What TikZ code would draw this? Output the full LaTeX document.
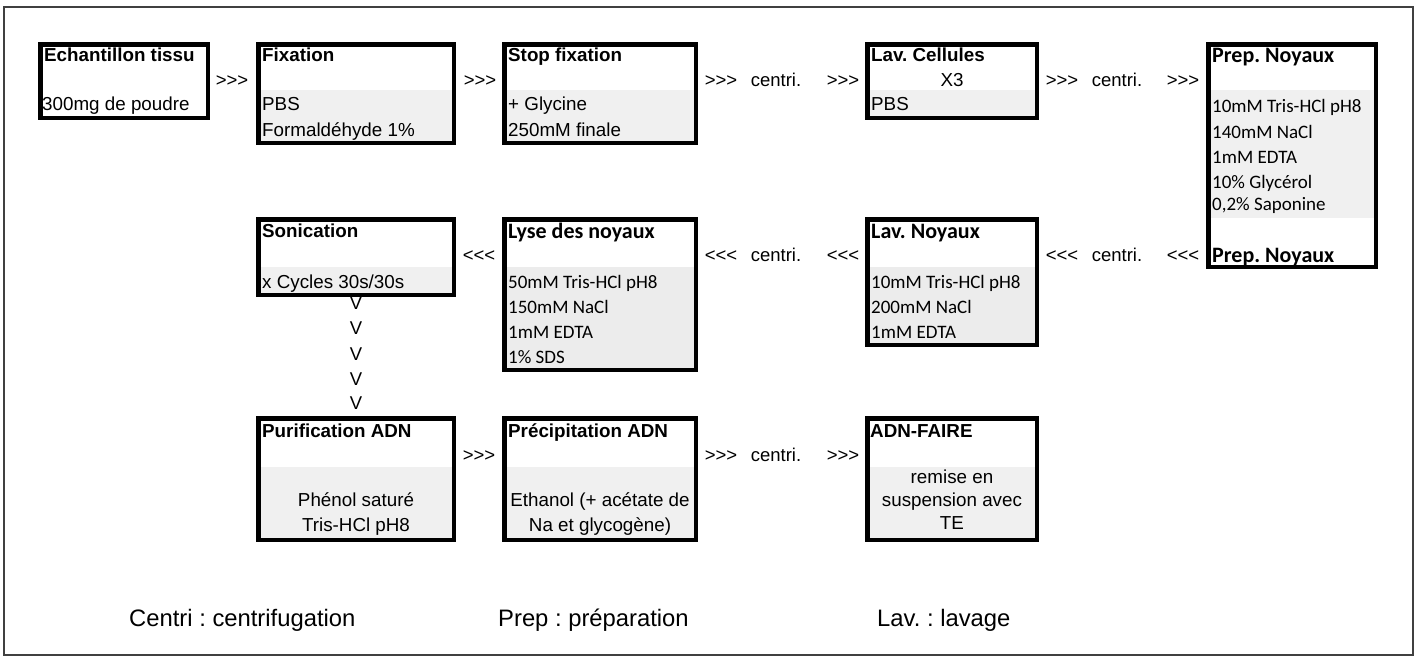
\documentclass[tikz,border=0pt]{standalone}
\usepackage{fontspec}
\setmainfont{Liberation Sans}
\newfontfamily\calfont{Carlito}
\definecolor{bandA}{HTML}{F0F0F0}
\definecolor{bandB}{HTML}{ECECEC}
\definecolor{framegray}{HTML}{404040}
% name, x1, y1, x2, y2, band top, band colour
\newcommand\exbox[7]{%
  \fill[white] (#2,#3) rectangle (#4,#5);
  \fill[#7] (#2,#6) rectangle (#4,#5);
  \node[boxframe, minimum width={#4-#2-4.5}, minimum height={#5-#3-4.5}] (#1) at ({(#2+#4)/2},{(#3+#5)/2}) {};
}
\begin{document}
\frenchspacing
\begin{tikzpicture}[x=1pt,y=-1pt,
  boxframe/.style={draw=black, line width=4.5pt, inner sep=0pt},
  ar/.style={font=\fontsize{18.8}{22}\selectfont, inner sep=0pt, anchor=base west},
  arb/.style={font=\fontsize{18.8}{22}\selectfont\bfseries, inner sep=0pt, anchor=base west},
  arc/.style={ar, anchor=base},
  ca/.style={font={\calfont\fontsize{19}{22}\selectfont}, inner sep=0pt, anchor=base west},
  cab/.style={font={\calfont\bfseries\fontsize{22}{24}\selectfont}, inner sep=0pt, anchor=base west},
  lnk/.style={font=\fontsize{18.5}{22}\selectfont, inner sep=0pt, anchor=base},
  foot/.style={font=\fontsize{23.8}{28}\selectfont, inner sep=0pt, anchor=base west}]
\useasboundingbox (0,0) rectangle (1419,657);
\draw[framegray, line width=1.8pt] (4,7) rectangle (1413,655);

% ---- row 1 ----
\exbox{b1}{38}{42}{210}{120}{120}{white}
\exbox{b2}{256}{42}{456}{145}{90}{bandA}
\exbox{b3}{502}{42}{698}{145}{90}{bandA}
\exbox{b4}{865}{42}{1039}{120}{90}{bandA}
\exbox{b5}{1206}{42}{1378}{269}{90}{bandA}
\fill[white] (1208,218) rectangle (1376,267);
\node[boxframe, minimum width={1378-1206-4.5}, minimum height={269-42-4.5}] (b5f) at (1292,155.5) {};

\node[arb] (t1) at (44,61) {Echantillon tissu};
\node[ar] (t1a) at (42,110) {300mg de poudre};

\node[arb] (t2) at (262,61) {Fixation};
\node[ar] (t2a) at (262,110) {PBS};
\node[ar] (t2b) at (262,136) {Formaldéhyde 1\%};

\node[arb] (t3) at (508,61) {Stop fixation};
\node[ar] (t3a) at (508,110) {+ Glycine};
\node[ar] (t3b) at (508,136) {250mM finale};

\node[arb] (t4) at (871,61) {Lav. Cellules};
\node[arc] (t4a) at (952,86) {X3};
\node[ar] (t4b) at (871,110) {PBS};

\node[cab] (t5) at (1212,62) {Prep. Noyaux};
\node[ca] (t5a) at (1212,112) {10mM Tris-HCl pH8};
\node[ca] (t5b) at (1212,138) {140mM NaCl};
\node[ca] (t5c) at (1212,163) {1mM EDTA};
\node[ca] (t5d) at (1212,188) {10\% Glycérol};
\node[ca] (t5e) at (1212,210) {0,2\% Saponine};
\node[cab] (t5f) at (1212,262) {Prep. Noyaux};

\node[lnk] (r1a) at (232,86) {>{}>{}>};
\node[lnk] (r1b) at (480,86) {>{}>{}>};
\node[lnk] (r1c) at (721,86) {>{}>{}>};
\node[lnk] (r1d) at (776,86) {centri.};
\node[lnk] (r1e) at (843,86) {>{}>{}>};
\node[lnk] (r1f) at (1062,86) {>{}>{}>};
\node[lnk] (r1g) at (1117,86) {centri.};
\node[lnk] (r1h) at (1183,86) {>{}>{}>};

% ---- row 2 ----
\exbox{b6}{256}{217}{456}{297}{267}{bandA}
\exbox{b7}{502}{217}{698}{372}{267}{bandB}
\exbox{b8}{865}{217}{1039}{347}{267}{bandB}

\node[arb] (t6) at (262,237) {Sonication};
\node[ar] (t6a) at (262,288) {x Cycles 30s/30s};

\node[cab] (t7) at (508,238) {Lyse des noyaux};
\node[ca] (t7a) at (508,288) {50mM Tris-HCl pH8};
\node[ca] (t7b) at (508,313) {150mM NaCl};
\node[ca] (t7c) at (508,338) {1mM EDTA};
\node[ca] (t7d) at (508,363) {1\% SDS};

\node[cab] (t8) at (871,238) {Lav. Noyaux};
\node[ca] (t8a) at (871,288) {10mM Tris-HCl pH8};
\node[ca] (t8b) at (871,313) {200mM NaCl};
\node[ca] (t8c) at (871,338) {1mM EDTA};

\node[lnk] (r2a) at (479,261) {<{}<{}<};
\node[lnk] (r2b) at (721,261) {<{}<{}<};
\node[lnk] (r2c) at (776,261) {centri.};
\node[lnk] (r2d) at (843,261) {<{}<{}<};
\node[lnk] (r2e) at (1062,261) {<{}<{}<};
\node[lnk] (r2f) at (1117,261) {centri.};
\node[lnk] (r2g) at (1183,261) {<{}<{}<};

\node[lnk] (v1) at (356,309) {V};
\node[lnk] (v2) at (356,334) {V};
\node[lnk] (v3) at (356,360) {V};
\node[lnk] (v4) at (356,385) {V};
\node[lnk] (v5) at (356,409) {V};

% ---- row 3 ----
\exbox{b9}{256}{416}{456}{542}{467}{bandA}
\exbox{b10}{502}{416}{698}{542}{467}{bandA}
\exbox{b11}{865}{416}{1039}{542}{467}{bandA}

\node[arb] (t9) at (262,437) {Purification ADN};
\node[arc] (t9a) at (356,506) {Phénol saturé};
\node[arc] (t9b) at (356,531) {Tris-HCl pH8};

\node[arb] (t10) at (508,437) {Précipitation ADN};
\node[arc] (t10a) at (600,506) {Ethanol (+ acétate de};
\node[arc] (t10b) at (600,531) {Na et glycogène)};

\node[arb] (t11) at (870,437) {ADN-FAIRE};
\node[arc] (t11a) at (952,483) {remise en};
\node[arc] (t11b) at (952,506) {suspension avec};
\node[arc] (t11c) at (952,529) {TE};

\node[lnk] (r3a) at (479,461) {>{}>{}>};
\node[lnk] (r3b) at (721,461) {>{}>{}>};
\node[lnk] (r3c) at (776,461) {centri.};
\node[lnk] (r3d) at (843,461) {>{}>{}>};

% ---- footer ----
\node[foot] (f1) at (129,626) {Centri : centrifugation};
\node[foot] (f2) at (498,626) {Prep : préparation};
\node[foot] (f3) at (877,626) {Lav. : lavage};
\end{tikzpicture}
\end{document}
